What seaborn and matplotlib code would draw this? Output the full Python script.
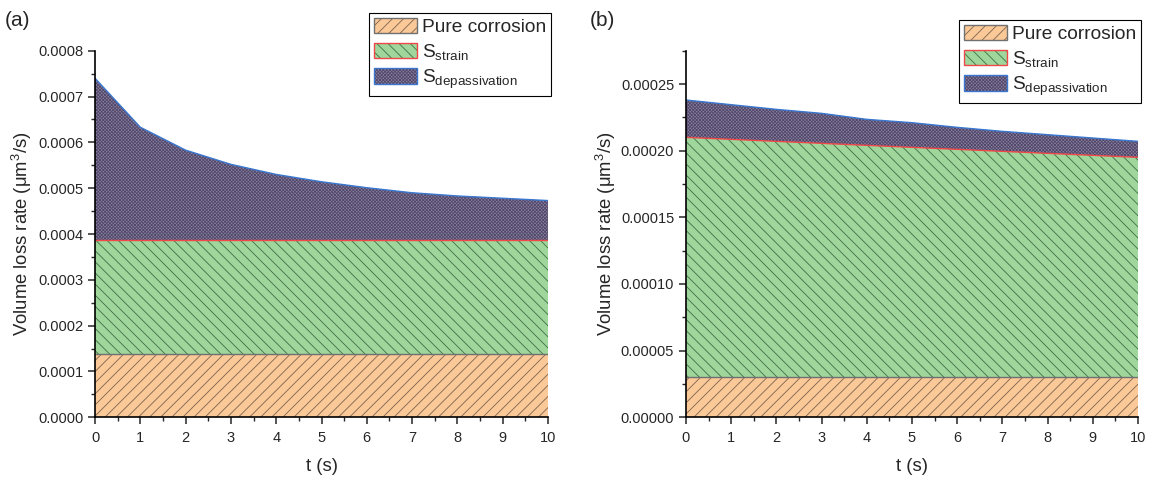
import numpy as np
import pandas as pd
import seaborn as sns
import matplotlib.pyplot as plt
from matplotlib.patches import Patch
from matplotlib.ticker import MultipleLocator, FormatStrFormatter

t = [0, 1, 2, 3, 4, 5, 6, 7, 8, 9, 10]

# panel (a): stacked tops
a_pure = [0.000138] * 11
a_strain_top = [0.000386] * 11
a_total = [0.00074, 0.000633, 0.000583, 0.000552, 0.00053, 0.000514,
           0.000501, 0.00049, 0.000483, 0.000478, 0.000473]

# panel (b): stacked tops
b_pure = [0.00003] * 11
b_strain_top = [0.00021, 0.0002085, 0.000207, 0.0002055, 0.000204, 0.0002025,
                0.000201, 0.0001995, 0.000198, 0.0001965, 0.000195]
b_total = [0.000238, 0.0002345, 0.000231, 0.000228, 0.0002235, 0.000221,
           0.0002175, 0.0002145, 0.000212, 0.0002095, 0.000207]

labels = ['Pure corrosion', r'S$_{\mathrm{strain}}$', r'S$_{\mathrm{depassivation}}$']

sns.set_style('ticks')
plt.rcParams['font.family'] = ['Liberation Sans', 'DejaVu Sans']
plt.rcParams['mathtext.fontset'] = 'custom'
plt.rcParams['mathtext.rm'] = 'Liberation Sans'
plt.rcParams['mathtext.it'] = 'Liberation Sans:italic'
plt.rcParams['hatch.linewidth'] = 0.6

fill_c = ['#fbc897', '#9fd69c', '#8a82a0']
hatch_c = ['#7a6450', '#3f6e45', '#51476a']
line_c = ['#707070', '#f0484a', '#3a78d0']
hatches = ['///', '\\\\\\', 'xxxxxxxxxx']

fig = plt.figure(figsize=(11.49, 4.78), dpi=100)
W, H = 1149, 478
ax_a = fig.add_axes([95 / W, 1 - 417.3 / H, (548 - 95) / W, (417.3 - 50.7) / H])
ax_b = fig.add_axes([686 / W, 1 - 417.3 / H, (1138 - 686) / W, (417.3 - 50.7) / H])


def draw(ax, pure, strain_top, total, ymax, ystep, fmt, tag, leg_top, tag_x, ypad):
    df = pd.DataFrame({'t': t, 'pure': pure, 'strain': strain_top, 'total': total})
    bottoms = [np.zeros(len(t)), df['pure'], df['strain']]
    tops = [df['pure'], df['strain'], df['total']]
    for i in range(3):
        ax.fill_between(df['t'], bottoms[i], tops[i], facecolor=fill_c[i],
                        edgecolor=hatch_c[i], hatch=hatches[i], linewidth=0, zorder=1)
    for i, col in enumerate(['pure', 'strain', 'total']):
        sns.lineplot(data=df, x='t', y=col, ax=ax, color=line_c[i], linewidth=1.0, zorder=2)

    ax.set_xlim(0, 10)
    ax.set_ylim(0, ymax)
    ax.xaxis.set_major_locator(MultipleLocator(1))
    ax.xaxis.set_minor_locator(MultipleLocator(0.5))
    ax.yaxis.set_major_locator(MultipleLocator(ystep))
    ax.yaxis.set_minor_locator(MultipleLocator(ystep / 2))
    ax.yaxis.set_major_formatter(FormatStrFormatter(fmt))
    ax.tick_params(which='major', direction='out', length=5, width=1.1, labelsize=10.5)
    ax.tick_params(axis='x', which='major', pad=5)
    ax.tick_params(which='minor', direction='out', length=3, width=1.0)
    for s in ['top', 'right']:
        ax.spines[s].set_visible(False)
    for s in ['left', 'bottom']:
        ax.spines[s].set_linewidth(1.2)
        ax.spines[s].set_color('black')
    ax.set_xlabel('t (s)', fontsize=13.3, labelpad=9)
    ax.set_ylabel('Volume loss rate (μm$^3$/s)', fontsize=13.3, labelpad=ypad)

    handles = []
    for i in range(3):
        h1 = Patch(facecolor=fill_c[i], edgecolor=hatch_c[i], hatch=hatches[i], linewidth=0)
        h2 = Patch(facecolor='none', edgecolor=line_c[i], linewidth=1.0)
        handles.append((h1, h2))
    leg = ax.legend(handles, labels, loc='upper right',
                    bbox_to_anchor=(ax.get_position().x1 + 3 / W, 1 - leg_top / H),
                    bbox_transform=fig.transFigure, fontsize=13.8, frameon=True,
                    fancybox=False, framealpha=1, edgecolor='black',
                    handlelength=2.25, handleheight=0.85, handletextpad=0.25,
                    labelspacing=0.3, borderpad=0.25, borderaxespad=0)
    leg.get_frame().set_linewidth(0.8)
    fig.text(tag_x / W, 1 - 21 / H, tag, fontsize=15, ha='left', va='center')


draw(ax_a, a_pure, a_strain_top, a_total, 0.0008, 0.0001, '%.4f', '(a)', 13, 5, 3)
draw(ax_b, b_pure, b_strain_top, b_total, 0.000275, 0.00005, '%.5f', '(b)', 20, 590, 2)

fig.savefig('out.png', dpi=100)
